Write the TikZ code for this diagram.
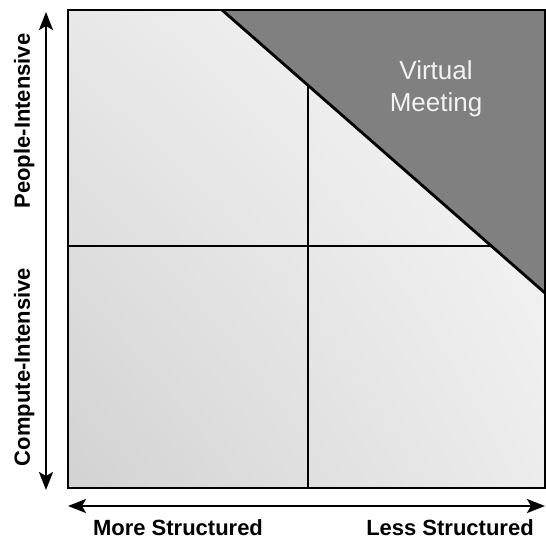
\documentclass[tikz,border=0pt]{standalone}
\usepackage{fontspec}
\setmainfont{Liberation Sans}
\usetikzlibrary{arrows.meta,shadings}
\definecolor{darkwedge}{HTML}{808080}
\definecolor{wedgetext}{HTML}{F2F2F2}
\definecolor{shLL}{HTML}{D2D2D2}
\definecolor{shUL}{HTML}{E8E8E8}
\definecolor{shLR}{HTML}{ECECEC}
\definecolor{shUR}{HTML}{F8F8F8}
\begin{document}
\begin{tikzpicture}[x=1pt,y=-1pt,
  axislabel/.style={font=\bfseries\fontsize{22}{24}\selectfont, inner sep=0pt, text depth=0pt},
  axisarrow/.style={line width=2.2pt, {Stealth[length=18pt,width=14pt,inset=4pt]}-{Stealth[length=18pt,width=14pt,inset=4pt]}},
  divider/.style={line width=2.4pt},
  frameline/.style={line width=2.4pt}]
\useasboundingbox (0,0) rectangle (546,541);
\coordinate (tl) at (68,10);
\coordinate (tr) at (545,10);
\coordinate (bl) at (68,488);
\coordinate (br) at (545,488);
\coordinate (d1) at (222,10);
\coordinate (d2) at (545,293);
\coordinate (vtop) at (308,85.4);
\coordinate (vbot) at (308,488);
\coordinate (hl) at (68,246);
\coordinate (hr) at (491.4,246);
% background gradient
\shade[lower left=shLL, upper left=shUL, lower right=shLR, upper right=shUR] (bl) rectangle (tr);
% dark wedge
\fill[darkwedge] (d1) -- (tr) -- (d2) -- cycle;
% dividers
\draw[divider] (vtop) -- (vbot);
\draw[divider] (hl) -- (hr);
\draw[line width=2.8pt] (d1) -- (d2);
% frame
\draw[frameline] (bl) rectangle (tr);
% axes
\coordinate (ya) at (46,490);
\coordinate (yb) at (46,12);
\coordinate (xa) at (68,506);
\coordinate (xb) at (545,506);
\draw[axisarrow] (ya) -- (yb);
\draw[axisarrow] (xa) -- (xb);
% labels
\node[axislabel, rotate=90] (people) at (22,121) {People-Intensive};
\node[axislabel, rotate=90] (compute) at (22,367) {Compute-Intensive};
\node[axislabel, anchor=base] (more) at (178,535.5) {More Structured};
\node[axislabel, anchor=base] (less) at (450,535.5) {Less Structured};
\node[text=wedgetext, align=center, font=\fontsize{26}{32}\selectfont, inner sep=0pt] (vm) at (436,89) {Virtual\\Meeting};
\end{tikzpicture}
\end{document}
